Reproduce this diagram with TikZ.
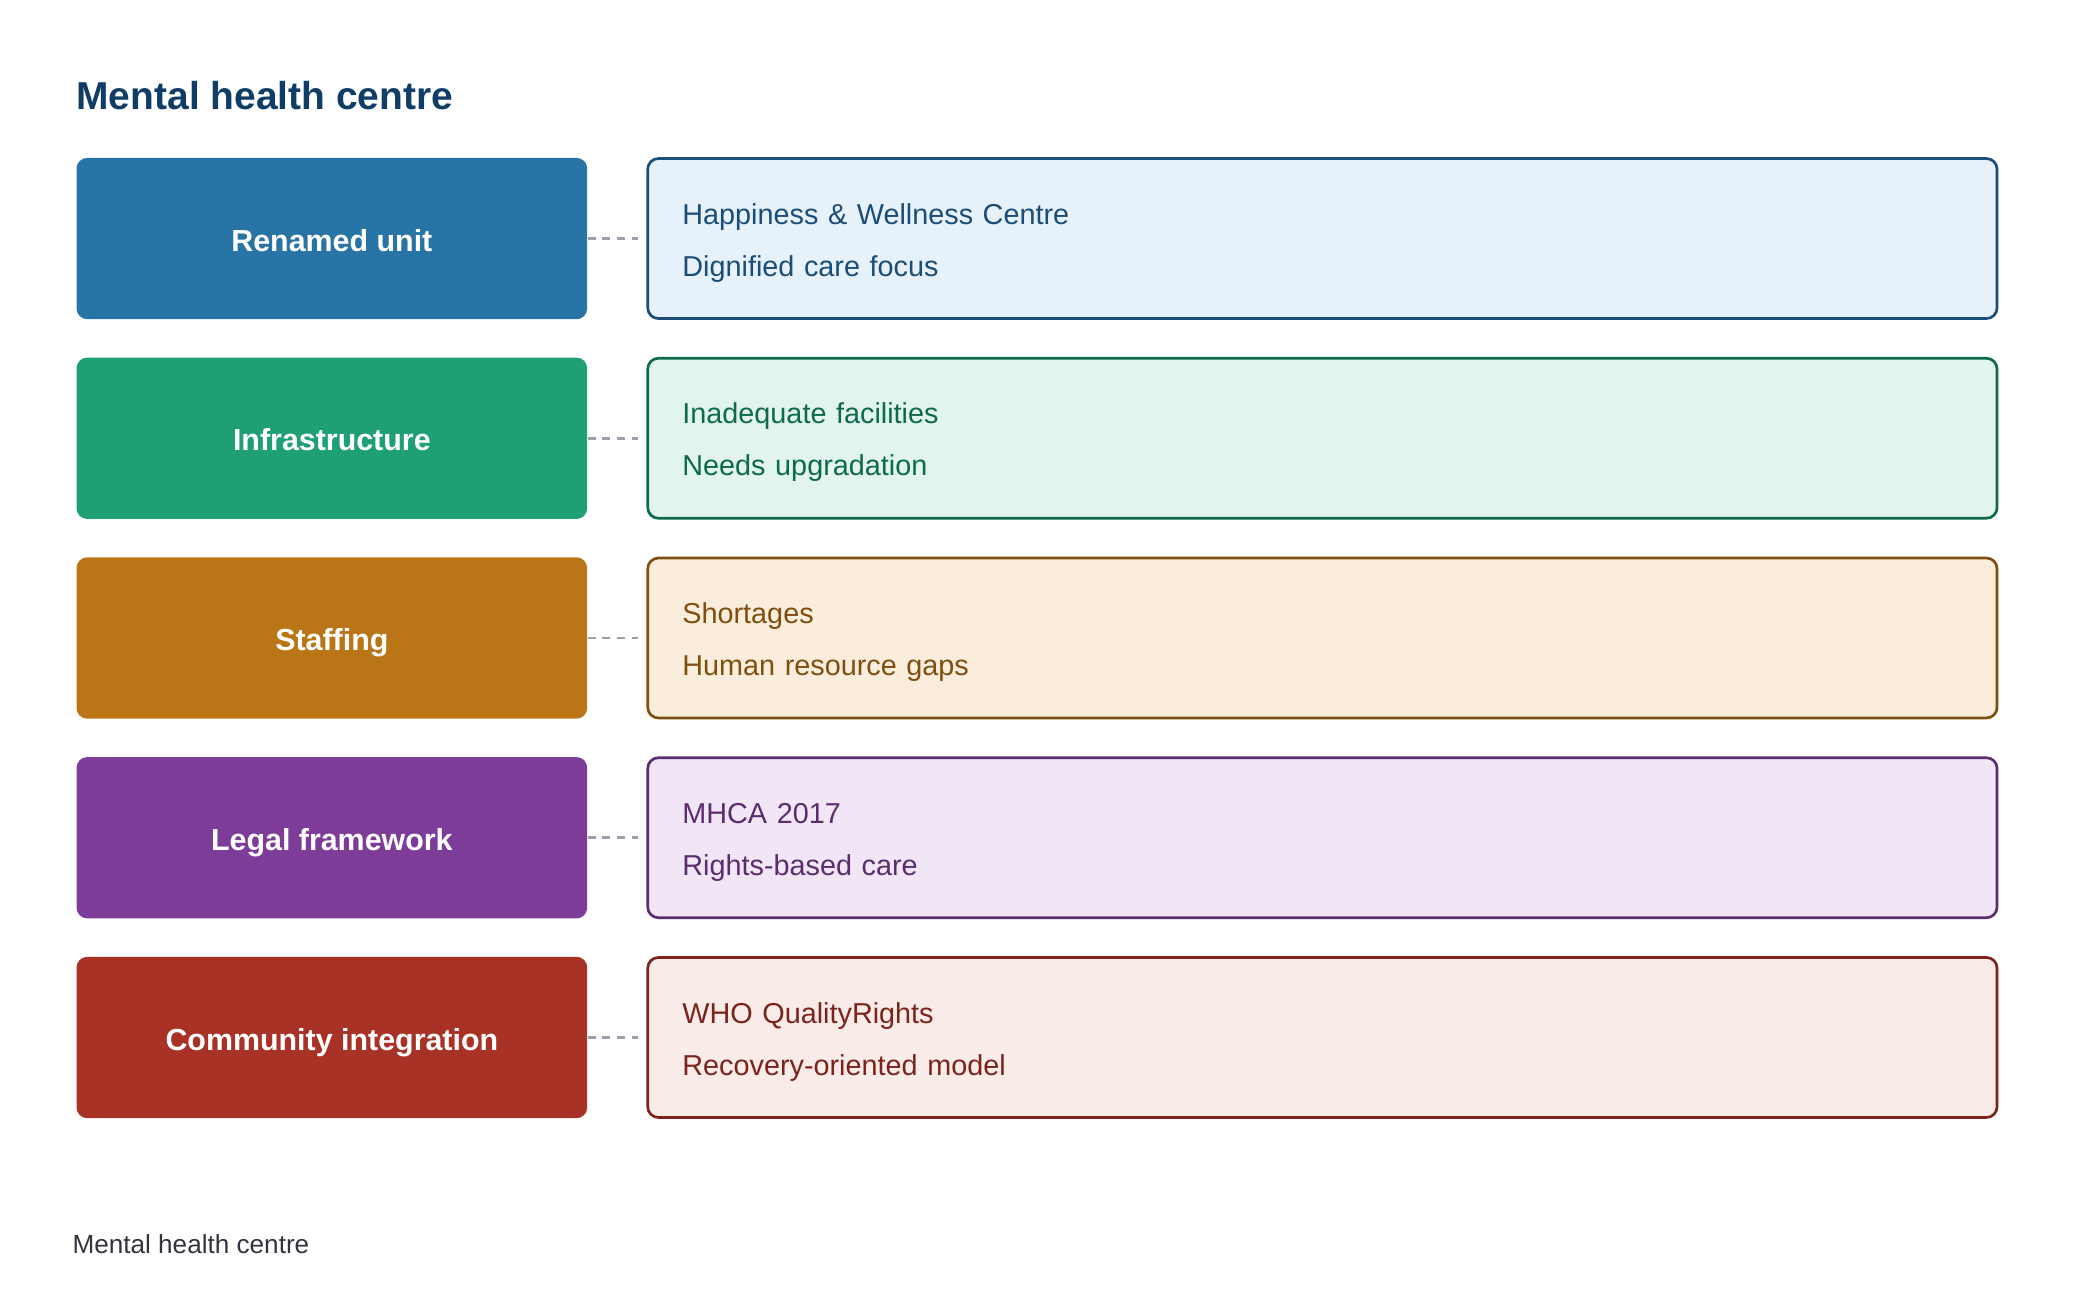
\documentclass[tikz,border=0pt]{standalone}
\usepackage{fontspec}
\setmainfont{Liberation Sans}
\usepackage{xcolor}
\usepackage{tikz}
\usetikzlibrary{positioning}

\definecolor{titleblue}{HTML}{0F3D66}
\definecolor{footgray}{HTML}{33333F}
\definecolor{linkgray}{HTML}{9AA0AC}
\definecolor{unitfill}{HTML}{2874A6}
\definecolor{unitlight}{HTML}{E7F1FA}
\definecolor{unitdark}{HTML}{1A4E78}
\definecolor{infrafill}{HTML}{1E9F74}
\definecolor{infralight}{HTML}{E1F4EE}
\definecolor{infradark}{HTML}{0E6B4A}
\definecolor{stafffill}{HTML}{BA7517}
\definecolor{stafflight}{HTML}{FAEDDB}
\definecolor{staffdark}{HTML}{7F4F0F}
\definecolor{legalfill}{HTML}{7D3C98}
\definecolor{legallight}{HTML}{F0E6F5}
\definecolor{legaldark}{HTML}{5B2C6F}
\definecolor{commfill}{HTML}{A93226}
\definecolor{commlight}{HTML}{F9ECE8}
\definecolor{commdark}{HTML}{7B241C}

\begin{document}
\begin{tikzpicture}[
    topic/.style={rectangle, fill=#1, text=white, rounded corners=4pt, minimum width=191.5pt, minimum height=60.5pt, text height=9.5pt, text depth=0pt, font=\fontsize{11.4}{14}\selectfont\bfseries},
    info/.style={rectangle, draw=#1dark, fill=#1light, text=#1dark, line width=1pt, rounded corners=4pt, text width=480pt, inner xsep=13pt, align=left, minimum height=60pt, font=\fontsize{10.8}{19.5}\selectfont, execute at begin node=\rule{0pt}{11pt}},
    link/.style={draw=linkgray, line width=1pt, dash pattern=on 3pt off 2.5pt, shorten >=3pt}
]

\path[use as bounding box] (0,0) rectangle (780pt,-490.5pt);

\node[anchor=west, text=titleblue, inner sep=0pt, font=\fontsize{14.6}{17}\selectfont\bfseries] (title) at (28.5pt,-36pt) {Mental health centre};

\node[topic=unitfill, anchor=north west] (unit) at (28.5pt,-59pt) {Renamed unit};
\node[info=unit, right=22pt of unit] (unitinfo) {Happiness \& Wellness Centre\\Dignified care focus};

\node[topic=infrafill, below=14pt of unit] (infra) {Infrastructure};
\node[info=infra, right=22pt of infra] (infrainfo) {Inadequate facilities\\Needs upgradation};

\node[topic=stafffill, below=14pt of infra] (staff) {Staffing};
\node[info=staff, right=22pt of staff] (staffinfo) {Shortages\\Human resource gaps};

\node[topic=legalfill, below=14pt of staff] (legal) {Legal framework};
\node[info=legal, right=22pt of legal] (legalinfo) {MHCA 2017\\Rights-based care};

\node[topic=commfill, below=14pt of legal] (comm) {Community integration};
\node[info=comm, right=22pt of comm] (comminfo) {WHO QualityRights\\Recovery-oriented model};

\draw[link] (unit) -- (unitinfo);
\draw[link] (infra) -- (infrainfo);
\draw[link] (staff) -- (staffinfo);
\draw[link] (legal) -- (legalinfo);
\draw[link] (comm) -- (comminfo);

\node[anchor=west, text=footgray, inner sep=0pt, font=\fontsize{9.8}{12}\selectfont] (footer) at (27pt,-466.5pt) {Mental health centre};

\end{tikzpicture}
\end{document}
